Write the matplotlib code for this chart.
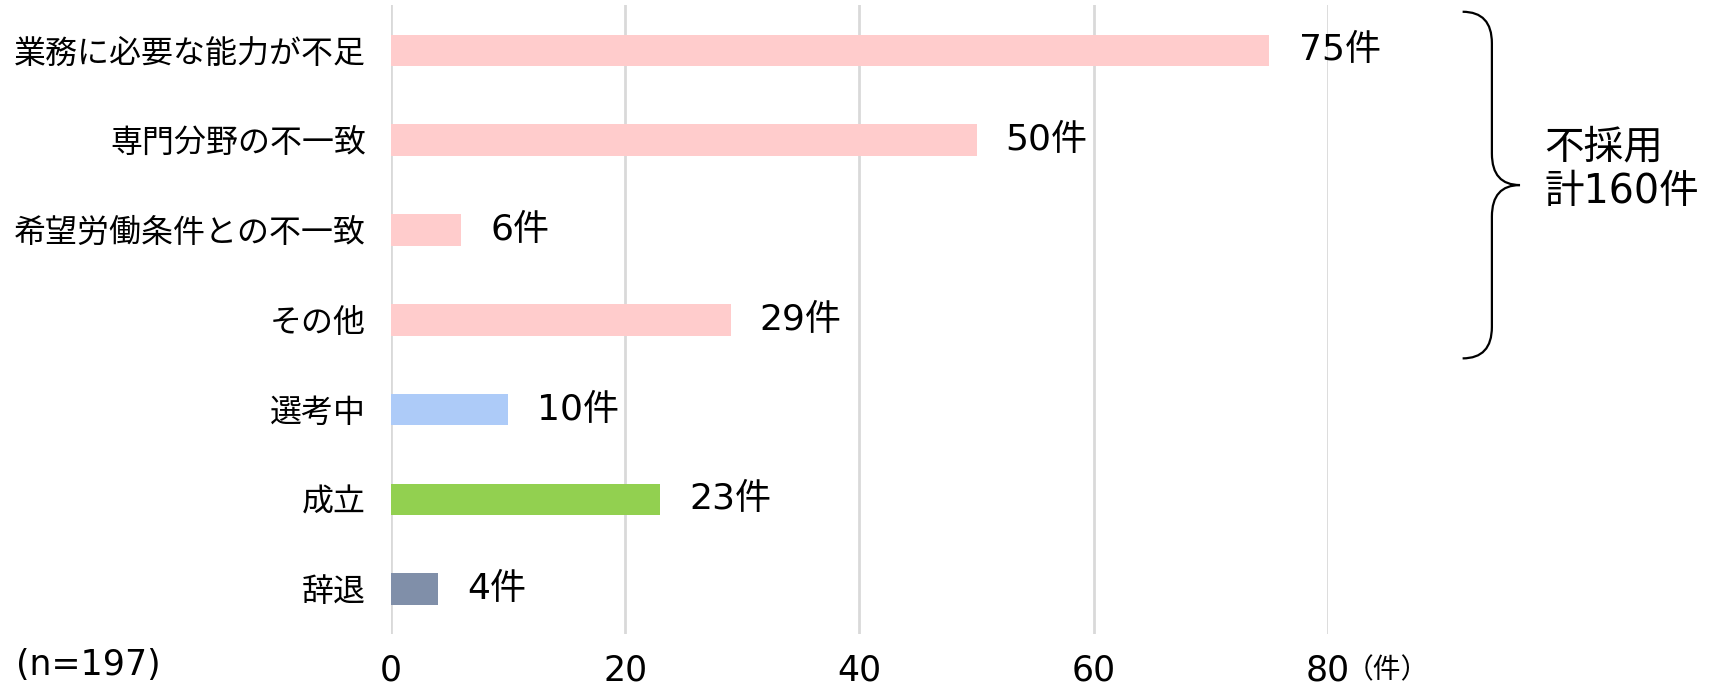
import matplotlib.pyplot as plt
from matplotlib.path import Path
from matplotlib.patches import PathPatch

# Latin digits from DejaVu, Japanese from Noto CJK
plt.rcParams['font.family'] = ['DejaVu Sans', 'Noto Sans CJK JP']

# Outcome categories and counts (n=197)
categories = ['業務に必要な能力が不足', '専門分野の不一致', '希望労働条件との不一致',
              'その他', '選考中', '成立', '辞退']
counts = [75, 50, 6, 29, 10, 23, 4]
colors = ['#FFCCCC', '#FFCCCC', '#FFCCCC', '#FFCCCC', '#ADCBF8', '#92D050', '#808FA9']
xticks = [0, 20, 40, 60, 80]

# The first four categories are rejections
rejected = counts[:4]

fig = plt.figure(figsize=(17.17, 6.84), dpi=100)
ax = fig.add_axes([0.2277, 0.073, 0.5457, 0.919])

y = list(range(len(categories)))
ax.barh(y, counts, height=0.353, color=colors, zorder=3)

ax.set_xlim(0, 80)
ax.set_ylim(len(categories) - 0.5, -0.5)
ax.set_xticks(xticks)
ax.set_xticklabels([str(t) for t in xticks], fontsize=25)
ax.set_yticks(y)
ax.set_yticklabels(categories, fontsize=23)
ax.tick_params(axis='x', length=0, pad=14)
ax.tick_params(axis='y', length=0, pad=18)
ax.xaxis.grid(True, color='#D9D9D9', linewidth=2, zorder=0)
for side in ax.spines.values():
    side.set_visible(False)

# Value labels next to each bar
for yi, v in zip(y, counts):
    ax.annotate(f'{v}件', (v, yi), xytext=(21, 0), textcoords='offset points',
                ha='left', va='center', fontsize=26, annotation_clip=False)

# Unit after the last tick
ax.annotate('（件）', (80, 0), xycoords=('data', 'axes fraction'),
            xytext=(13, -26), textcoords='offset points',
            ha='left', va='center', fontsize=20, annotation_clip=False)

fig.text(16 / 1717, 1 - 665 / 684, '(n=197)', ha='left', va='center', fontsize=25)

# Curly brace grouping the rejection categories
top, bot = -0.43, 3.43
mid = (top + bot) / 2
x0, x1, x2 = 91.5, 94.0, 96.4
k = 0.35
verts = [(x0, top), (x1, top), (x1, top + k),
         (x1, mid - k), (x1, mid), (x2, mid),
         (x1, mid), (x1, mid + k),
         (x1, bot - k), (x1, bot), (x0, bot)]
codes = [Path.MOVETO, Path.CURVE3, Path.CURVE3,
         Path.LINETO, Path.CURVE3, Path.CURVE3,
         Path.CURVE3, Path.CURVE3,
         Path.LINETO, Path.CURVE3, Path.CURVE3]
ax.add_patch(PathPatch(Path(verts, codes), fill=False, lw=1.6,
                       edgecolor='black', clip_on=False))
ax.text(98.5, mid - 0.17, f'不採用\n計{sum(rejected)}件', ha='left', va='center',
        fontsize=28.5, linespacing=1.15, clip_on=False)

fig.savefig('out.png', dpi=100)
